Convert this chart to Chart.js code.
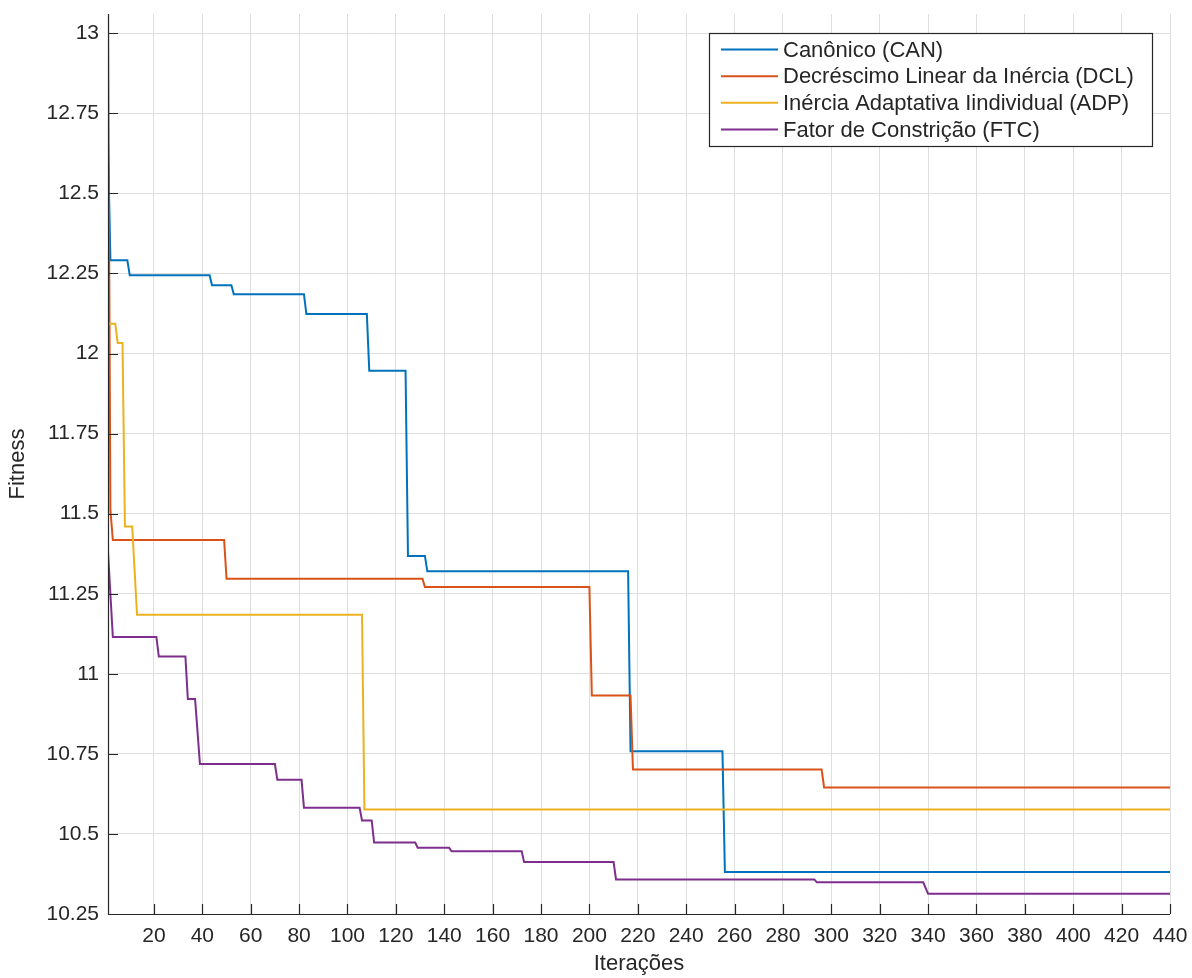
<!DOCTYPE html>
<html>
<head>
<meta charset="utf-8">
<script src="https://cdn.jsdelivr.net/npm/chart.js@4/dist/chart.umd.min.js"></script>
<style>
  html, body { margin: 0; padding: 0; background: #ffffff; }
  canvas { display: block; }
</style>
</head>
<body>
<canvas id="c" width="1192" height="978"></canvas>
<script>
// ---- Data (polyline vertices) ----
const seriesNames = [
  "Canônico (CAN)",
  "Decréscimo Linear da Inércia (DCL)",
  "Inércia Adaptativa Iindividual (ADP)",
  "Fator de Constrição (FTC)"
];
const seriesColors = ["#0072BD", "#D95319", "#EDB120", "#7E2F8E"];

const canIter = [1, 2, 9, 10, 43, 44, 52, 53, 82, 83, 108, 109, 124, 125, 132, 133, 216, 217, 255, 256, 440];
const canFit  = [12.65, 12.291, 12.291, 12.244, 12.244, 12.213, 12.213, 12.185, 12.185, 12.123, 12.123, 11.946, 11.946, 11.368, 11.368, 11.32, 11.32, 10.758, 10.758, 10.381, 10.381];

const dclIter = [1, 2, 3, 49, 50, 131, 132, 200, 201, 217, 218, 296, 297, 440];
const dclFit  = [13.06, 11.51, 11.418, 11.418, 11.297, 11.297, 11.271, 11.271, 10.932, 10.932, 10.701, 10.701, 10.645, 10.645];

const adpIter = [1, 4, 5, 7, 8, 11, 13, 106, 107, 440];
const adpFit  = [12.093, 12.093, 12.033, 12.033, 11.46, 11.46, 11.184, 11.184, 10.576, 10.576];

const ftcIter = [1, 3, 21, 22, 33, 34, 37, 39, 70, 71, 81, 82, 105, 106, 110, 111, 128, 129, 142, 143, 172, 173, 210, 211, 293, 294, 338, 340, 440];
const ftcFit  = [11.38, 11.115, 11.115, 11.054, 11.054, 10.921, 10.921, 10.718, 10.718, 10.669, 10.669, 10.582, 10.582, 10.542, 10.542, 10.473, 10.473, 10.457, 10.457, 10.446, 10.446, 10.412, 10.412, 10.358, 10.358, 10.349, 10.349, 10.313, 10.313];

const xTicks = [20, 40, 60, 80, 100, 120, 140, 160, 180, 200, 220, 240, 260, 280, 300, 320, 340, 360, 380, 400, 420, 440];
const yTicks = [10.25, 10.5, 10.75, 11, 11.25, 11.5, 11.75, 12, 12.25, 12.5, 12.75, 13];
const yTickLabels = ["10.25", "10.5", "10.75", "11", "11.25", "11.5", "11.75", "12", "12.25", "12.5", "12.75", "13"];
const xLabel = "Iterações";
const yLabel = "Fitness";

// ---- Build datasets ----
const iters = [canIter, dclIter, adpIter, ftcIter];
const fits = [canFit, dclFit, adpFit, ftcFit];
const datasets = seriesNames.map((name, i) => ({
  label: name,
  data: iters[i].map((x, k) => ({ x: x, y: fits[i][k] })),
  borderColor: seriesColors[i],
  backgroundColor: seriesColors[i],
  borderWidth: 2,
  pointRadius: 0,
  tension: 0,
  fill: false,
  order: 3 - i
}));

const FONT = "'Liberation Sans', Arial, Helvetica, sans-serif";
const AXIS = "#262626";
const CHART_LEFT = 108, CHART_BOTTOM_GAP = 64;

const bgPlugin = {
  id: 'bg',
  beforeDraw(chart) {
    const ctx = chart.ctx;
    ctx.save();
    ctx.fillStyle = '#ffffff';
    ctx.fillRect(0, 0, chart.width, chart.height);
    ctx.restore();
  }
};

const ticksPlugin = {
  id: 'inwardTicks',
  afterDatasetsDraw(chart) {
    const ctx = chart.ctx;
    const xs = chart.scales.x, ys = chart.scales.y;
    const area = chart.chartArea;
    const len = 10;
    ctx.save();
    ctx.strokeStyle = AXIS;
    ctx.lineWidth = 1.2;
    ctx.beginPath();
    xTicks.forEach(v => {
      const px = Math.round(xs.getPixelForValue(v)) + 0.5;
      ctx.moveTo(px, area.bottom);
      ctx.lineTo(px, area.bottom - len);
    });
    yTicks.forEach(v => {
      const py = Math.round(ys.getPixelForValue(v)) + 0.5;
      ctx.moveTo(area.left, py);
      ctx.lineTo(area.left + len, py);
    });
    ctx.stroke();
    ctx.beginPath();
    ctx.moveTo(area.left + 0.5, area.top);
    ctx.lineTo(area.left + 0.5, area.bottom + 0.5);
    ctx.lineTo(area.right, area.bottom + 0.5);
    ctx.stroke();
    ctx.restore();
  }
};

const legendPlugin = {
  id: 'boxLegend',
  afterDraw(chart) {
    const ctx = chart.ctx;
    const x0 = 709, y0 = 33, w = 443, h = 113;
    const rowY0 = 49.5, rowH = 26.67;
    ctx.save();
    ctx.fillStyle = '#ffffff';
    ctx.fillRect(x0, y0, w, h);
    ctx.strokeStyle = AXIS;
    ctx.lineWidth = 1.2;
    ctx.strokeRect(x0 + 0.5, y0 + 0.5, w, h);
    ctx.font = "22px " + FONT;
    ctx.textBaseline = 'middle';
    ctx.textAlign = 'left';
    chart.data.datasets.forEach((ds, i) => {
      const y = rowY0 + i * rowH;
      ctx.strokeStyle = ds.borderColor;
      ctx.lineWidth = 2;
      ctx.beginPath();
      ctx.moveTo(721, y);
      ctx.lineTo(778, y);
      ctx.stroke();
      ctx.fillStyle = AXIS;
      ctx.fillText(ds.label, 783, y + 1);
    });
    ctx.restore();
  }
};

function zeroPad(scale) {
  scale.paddingTop = 0; scale.paddingBottom = 0;
  scale.paddingLeft = 0; scale.paddingRight = 0;
}

new Chart(document.getElementById('c'), {
  type: 'line',
  data: { datasets: datasets },
  options: {
    responsive: false,
    animation: false,
    devicePixelRatio: 1,
    layout: { padding: { top: 14, right: 22, left: 0, bottom: 0 } },
    plugins: { legend: { display: false }, tooltip: { enabled: false } },
    scales: {
      x: {
        type: 'linear',
        min: 1,
        max: 440,
        afterBuildTicks(scale) { scale.ticks = xTicks.map(v => ({ value: v })); },
        afterFit(scale) { scale.height = CHART_BOTTOM_GAP; zeroPad(scale); },
        grid: { color: '#dedede', lineWidth: 1, drawTicks: false },
        border: { display: false },
        ticks: {
          padding: 10,
          color: AXIS,
          font: { family: FONT, size: 21 },
          maxRotation: 0,
          autoSkip: false,
          callback: (v) => String(v)
        },
        title: {
          display: true,
          text: xLabel,
          color: AXIS,
          font: { family: FONT, size: 22 },
          padding: { top: 0, bottom: 1 }
        }
      },
      y: {
        type: 'linear',
        min: 10.25,
        max: 13.06,
        afterBuildTicks(scale) { scale.ticks = yTicks.map(v => ({ value: v })); },
        afterFit(scale) { scale.width = CHART_LEFT; zeroPad(scale); },
        grid: { color: '#dedede', lineWidth: 1, drawTicks: false },
        border: { display: false },
        ticks: {
          padding: 9,
          color: AXIS,
          font: { family: FONT, size: 21 },
          autoSkip: false,
          callback: (v, idx) => yTickLabels[idx]
        },
        title: {
          display: true,
          text: yLabel,
          color: AXIS,
          font: { family: FONT, size: 22 },
          padding: { top: 5, bottom: 0 }
        }
      }
    }
  },
  plugins: [bgPlugin, ticksPlugin, legendPlugin]
});
</script>
</body>
</html>
